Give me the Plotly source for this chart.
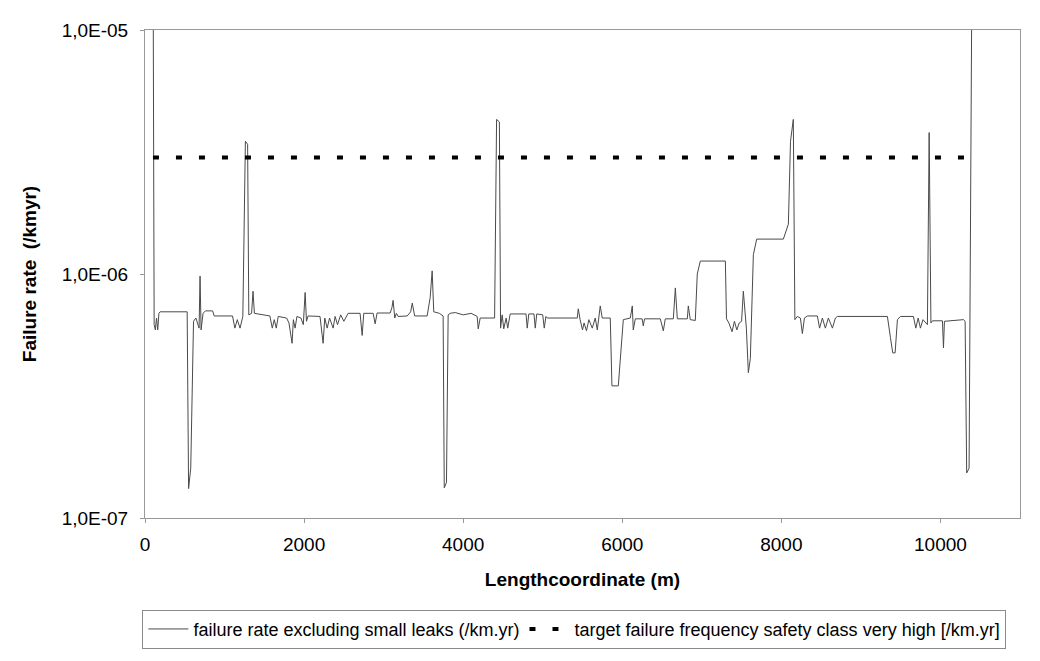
import plotly.graph_objects as go

# Failure rate excluding small leaks (/km.yr) along the pipeline
length_m = [
    100, 115, 130, 145, 160, 175, 190, 530, 548, 575, 610, 640, 680, 692, 705, 730, 760, 850, 870,
    1100, 1130, 1160, 1195, 1230, 1262, 1290, 1305, 1340, 1358, 1375, 1570, 1600, 1625, 1650, 1675,
    1780, 1810, 1849, 1865, 1887, 1910, 1960, 1990, 2013, 2030, 2050, 2200, 2239, 2260, 2290, 2320,
    2365, 2390, 2420, 2460, 2500, 2553, 2704, 2730, 2750, 2868, 2893, 2918, 3082, 3105, 3119, 3140,
    3160, 3182, 3296, 3340, 3360, 3390, 3547, 3585, 3610, 3630, 3700, 3748, 3762, 3790, 3811, 3836,
    3900, 4000, 4100, 4176, 4189, 4214, 4365, 4395, 4420, 4455, 4470, 4490, 4510, 4540, 4560, 4591,
    4790, 4805, 4825, 4890, 4906, 4925, 5000, 5019, 5040, 5057, 5434, 5447, 5470, 5500, 5520, 5550,
    5580, 5623, 5660, 5686, 5723, 5748, 5849, 5870, 5950, 5975, 6000, 6013, 6101, 6126, 6138, 6164,
    6250, 6264, 6280, 6478, 6516, 6541, 6642, 6667, 6692, 6818, 6830, 6855, 6918, 6943, 6981, 7296,
    7310, 7340, 7380, 7410, 7440, 7470, 7500, 7522, 7560, 7585, 7610, 7648, 7690, 7960, 8025, 8088,
    8115, 8150, 8170, 8200, 8239, 8264, 8290, 8327, 8453, 8480, 8516, 8553, 8591, 8642, 8679, 8704,
    9333, 9371, 9400, 9430, 9459, 9497, 9660, 9690, 9720, 9748, 9780, 9836, 9858, 9880, 9899, 10025,
    10038, 10050, 10289, 10310, 10330, 10360, 10400,
]
failure_rate = [
    3e-05, 6.2e-07, 5.9e-07, 6.6e-07, 5.9e-07, 6.9e-07, 7.0e-07, 7.0e-07, 1.32e-07, 1.6e-07, 6.4e-07,
    6.6e-07, 6.0e-07, 9.8e-07, 5.9e-07, 6.9e-07, 7.06e-07, 7.06e-07, 6.73e-07,
    6.73e-07, 6.0e-07, 6.5e-07, 6.0e-07, 6.7e-07, 3.5e-06, 3.4e-06, 6.8e-07, 6.9e-07, 8.5e-07, 6.9e-07,
    6.73e-07, 6.0e-07, 6.5e-07, 6.0e-07, 6.7e-07,
    6.6e-07, 6.3e-07, 5.2e-07, 6.5e-07, 6.0e-07, 6.7e-07, 6.6e-07, 6.2e-07, 8.4e-07, 6.4e-07, 6.73e-07,
    6.7e-07, 5.2e-07, 6.6e-07, 6.0e-07, 6.6e-07,
    6.0e-07, 6.7e-07, 6.2e-07, 6.8e-07, 6.4e-07, 6.9e-07, 6.9e-07, 5.6e-07, 6.9e-07, 6.9e-07, 6.25e-07,
    6.92e-07, 6.92e-07, 7.3e-07, 7.8e-07, 6.6e-07,
    6.9e-07, 6.7e-07, 6.73e-07, 7.0e-07, 7.6e-07, 6.73e-07, 6.73e-07, 8.0e-07, 1.03e-06, 7.0e-07,
    6.9e-07, 6.73e-07, 1.33e-07, 1.4e-07, 6.8e-07, 6.9e-07,
    6.95e-07, 6.8e-07, 6.9e-07, 6.7e-07, 5.96e-07, 6.6e-07, 6.6e-07, 6.6e-07, 4.3e-06, 4.2e-06, 6.0e-07,
    6.8e-07, 5.96e-07, 6.6e-07, 6.0e-07, 6.86e-07,
    6.86e-07, 6.0e-07, 6.86e-07, 6.86e-07, 6.0e-07, 6.86e-07, 6.8e-07, 6.0e-07, 6.7e-07, 6.6e-07,
    6.6e-07, 7.2e-07, 6.5e-07, 5.9e-07, 6.3e-07, 5.85e-07,
    6.5e-07, 6.0e-07, 6.6e-07, 5.9e-07, 7.4e-07, 6.6e-07, 6.6e-07, 3.48e-07, 3.48e-07, 4.5e-07, 5.5e-07,
    6.5e-07, 6.6e-07, 7.4e-07, 5.9e-07, 6.55e-07,
    6.55e-07, 6.13e-07, 6.55e-07, 6.55e-07, 5.85e-07, 6.55e-07, 6.55e-07, 8.77e-07, 6.55e-07, 6.55e-07,
    7.4e-07, 6.5e-07, 6.45e-07, 1.0e-06, 1.13e-06, 1.13e-06,
    6.55e-07, 6.3e-07, 5.8e-07, 6.4e-07, 5.9e-07, 6.3e-07, 6.4e-07, 8.5e-07, 6.0e-07, 3.94e-07, 4.5e-07,
    1.2e-06, 1.39e-06, 1.39e-06, 1.39e-06, 1.6e-06,
    3.5e-06, 4.3e-06, 6.5e-07, 6.7e-07, 6.6e-07, 5.7e-07, 6.6e-07, 6.73e-07, 6.73e-07, 6.0e-07, 6.6e-07,
    6.0e-07, 6.6e-07, 6.0e-07, 6.6e-07, 6.7e-07,
    6.7e-07, 5.5e-07, 4.75e-07, 4.75e-07, 6.5e-07, 6.7e-07, 6.7e-07, 6.0e-07, 6.6e-07, 6.0e-07, 6.5e-07,
    6.2e-07, 3.8e-06, 6.3e-07, 6.43e-07, 6.43e-07,
    4.98e-07, 6.4e-07, 6.5e-07, 6.4e-07, 1.53e-07, 1.6e-07, 3e-05,
]

# Target failure frequency safety class very high (/km.yr)
target_length_m = [100, 10400]
target_rate = [3.0e-06, 3.0e-06]

x_ticks = [0, 2000, 4000, 6000, 8000, 10000]
x_tick_labels = ["0", "2000", "4000", "6000", "8000", "10000"]
y_ticks = [1e-07, 1e-06, 1e-05]
y_tick_labels = ["1,0E-07", "1,0E-06", "1,0E-05"]

FONT = "Liberation Sans, Arial, sans-serif"

fig = go.Figure()
fig.add_trace(go.Scatter(
    x=length_m, y=failure_rate, mode="lines",
    name="failure rate excluding small leaks (/km.yr)",
    line=dict(color="#4a4a4a", width=1),
))
fig.add_trace(go.Scatter(
    x=target_length_m, y=target_rate, mode="lines",
    name="target failure frequency safety class very high [/km.yr]",
    line=dict(color="black", width=4, dash="6px,17px"),
))

# page body has an 8px default margin, so the figure is sized to fit the window
fig.update_layout(
    width=1032, height=653,
    margin=dict(l=137, r=20, t=16, b=140),
    paper_bgcolor="white", plot_bgcolor="white",
    font=dict(family=FONT, color="black", size=18),
    showlegend=True,
    legend=dict(
        orientation="h", x=-0.003, xanchor="left", y=-0.188, yanchor="top",
        bordercolor="#8a8a8a", borderwidth=1, font=dict(size=18, family=FONT),
        itemwidth=40, tracegroupgap=0,
    ),
    xaxis=dict(
        range=[0, 11000], tickvals=x_ticks, ticktext=x_tick_labels,
        ticks="outside", ticklen=4, tickcolor="#999",
        showline=True, linecolor="#999", linewidth=1, mirror=True, showgrid=False, zeroline=False,
        tickfont=dict(size=19), ticklabelstandoff=5,
        title=dict(text="<b>Lengthcoordinate (m)</b>", font=dict(size=19), standoff=18),
    ),
    yaxis=dict(
        type="log", range=[-7, -5], tickvals=y_ticks, ticktext=y_tick_labels,
        ticks="outside", ticklen=4, tickcolor="#999",
        showline=True, linecolor="#999", linewidth=1, mirror=True, showgrid=False, zeroline=False,
        tickfont=dict(size=19), ticklabelstandoff=8,
        title=dict(text="<b>Failure rate  (/kmyr)</b>", font=dict(size=19), standoff=20),
    ),
)

fig.write_html("out.html")
